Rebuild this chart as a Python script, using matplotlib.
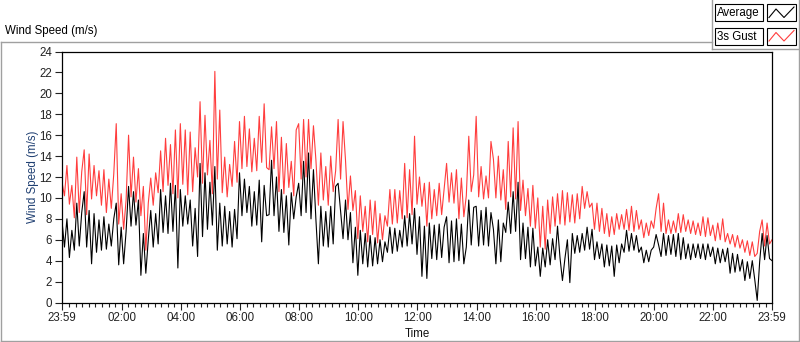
import numpy as np
import matplotlib
matplotlib.use("Agg")
import matplotlib.pyplot as plt
from matplotlib.lines import Line2D
from matplotlib.patches import Rectangle

plt.rcParams['font.family'] = ['Liberation Sans', 'DejaVu Sans']

# ---- data: one value every 5 minutes, 23:59 -> 23:59 ----
step_min = 5

gust = [
    11.5, 10.2, 13.1, 9.4, 11.2, 8.1, 13.9, 8.6, 12.5, 14.6, 8.4, 14.2,
    9.9, 13.1, 10.2, 12.6, 9.3, 12.7, 8.6, 11.8, 9.0, 12.3, 17.1, 7.5,
    10.4, 7.0, 9.8, 16.0, 10.1, 13.9, 9.6, 12.8, 8.3, 11.1, 5.0, 9.5,
    11.9, 9.3, 12.4, 10.5, 14.5, 10.6, 15.7, 11.2, 15.1, 10.4, 16.5, 10.0,
    17.1, 11.3, 16.5, 10.3, 16.3, 10.6, 14.8, 12.0, 19.2, 11.4, 17.9, 12.2,
    15.5, 10.4, 22.1, 11.8, 18.4, 10.5, 13.9, 10.1, 13.2, 11.1, 15.4, 11.5,
    17.3, 12.8, 17.8, 13.0, 16.6, 12.5, 15.7, 12.6, 17.8, 13.4, 19.0, 12.9,
    12.7, 16.8, 12.8, 17.3, 10.6, 15.8, 10.4, 15.2, 11.0, 13.5, 10.2, 16.5,
    17.1, 11.8, 17.5, 12.0, 17.5, 12.8, 16.9, 13.6, 9.3, 14.3, 9.8, 13.0,
    9.3, 14.0, 10.6, 12.6, 17.5, 11.8, 17.3, 13.6, 8.9, 12.1, 8.8, 10.7,
    6.1, 10.2, 6.8, 9.2, 5.8, 9.8, 6.5, 9.7, 5.7, 8.5, 6.0, 8.3,
    7.3, 10.8, 7.5, 10.8, 7.6, 10.7, 8.0, 13.3, 8.1, 12.7, 8.4, 15.9,
    9.4, 12.0, 9.2, 11.4, 7.3, 11.5, 8.0, 10.8, 8.3, 11.4, 8.4, 10.9,
    13.3, 9.6, 12.4, 9.5, 12.7, 8.0, 11.9, 8.2, 10.2, 15.9, 10.6, 12.2,
    17.8, 10.1, 13.0, 9.9, 12.1, 10.0, 15.4, 13.7, 10.0, 14.0, 9.8, 12.7,
    8.9, 15.4, 10.1, 16.7, 9.9, 17.3, 8.8, 11.7, 8.3, 10.9, 7.3, 11.2,
    7.1, 10.0, 5.3, 9.2, 5.1, 9.8, 6.6, 10.1, 7.3, 10.4, 7.5, 10.7,
    7.4, 10.5, 7.7, 10.3, 7.6, 10.4, 8.0, 11.1, 9.0, 10.6, 9.1, 9.5,
    7.0, 9.5, 6.8, 9.0, 6.6, 8.5, 6.3, 8.2, 6.5, 8.5, 7.0, 8.4,
    7.0, 8.9, 6.9, 9.2, 6.8, 8.8, 7.0, 7.9, 6.2, 7.6, 6.4, 7.8,
    7.1, 9.0, 10.4, 6.8, 9.5, 6.6, 7.9, 6.6, 7.8, 6.7, 8.5, 6.7,
    8.4, 6.8, 7.9, 6.6, 7.8, 6.5, 7.6, 6.4, 8.2, 6.3, 8.1, 6.4,
    7.4, 5.9, 7.6, 6.0, 8.0, 5.8, 6.6, 5.6, 6.5, 5.3, 6.4, 5.2,
    6.0, 4.8, 5.9, 4.5, 5.8, 4.4, 4.7, 6.8, 7.9, 5.4, 7.6, 5.6,
    6.0,
]

average = [
    7.8, 5.3, 8.0, 4.3, 6.9, 5.0, 9.5, 5.4, 8.6, 10.6, 5.3, 8.8,
    3.7, 8.5, 4.8, 7.9, 5.0, 8.2, 5.1, 7.5, 5.4, 8.0, 9.5, 3.6,
    7.2, 3.7, 6.8, 11.1, 7.3, 10.6, 7.4, 9.8, 2.6, 6.6, 2.8, 6.0,
    8.8, 5.3, 8.5, 5.6, 10.8, 6.7, 10.2, 6.6, 11.4, 6.8, 11.2, 3.3,
    10.8, 7.3, 10.2, 7.5, 9.8, 5.4, 9.0, 4.4, 13.3, 6.3, 12.4, 7.0,
    11.5, 7.4, 13.0, 5.0, 9.5, 5.4, 9.2, 5.6, 8.7, 5.3, 8.9, 6.1,
    12.4, 8.3, 11.8, 8.6, 11.1, 7.3, 10.6, 7.4, 11.7, 5.8, 11.2, 8.3,
    8.4, 13.6, 8.3, 12.0, 6.8, 10.8, 6.7, 10.2, 5.5, 10.5, 8.0, 10.1,
    11.4, 8.3, 13.5, 8.6, 14.3, 8.0, 12.7, 7.9, 3.7, 9.2, 5.4, 8.7,
    5.3, 9.2, 5.6, 11.1, 11.4, 8.8, 6.1, 9.8, 6.0, 8.6, 3.8, 7.2,
    2.6, 6.9, 3.7, 6.6, 3.4, 6.4, 3.5, 6.2, 3.7, 6.0, 3.9, 5.8,
    4.8, 7.2, 4.7, 7.1, 4.9, 6.9, 5.3, 8.3, 5.4, 8.5, 5.6, 9.0,
    4.6, 8.2, 2.5, 7.3, 2.3, 7.6, 4.2, 7.4, 4.1, 7.5, 4.3, 7.2,
    8.2, 3.8, 7.8, 3.9, 8.0, 4.0, 7.5, 3.7, 5.3, 9.8, 5.5, 9.1,
    9.2, 5.4, 8.8, 5.5, 9.1, 5.4, 8.6, 7.0, 3.7, 7.9, 3.9, 7.6,
    6.7, 9.6, 6.6, 10.6, 6.8, 11.5, 4.1, 7.6, 4.2, 7.2, 3.4, 7.1,
    3.5, 5.3, 2.5, 5.2, 3.4, 6.0, 3.6, 6.1, 4.1, 7.3, 4.3, 2.1,
    4.2, 6.0, 1.9, 6.6, 4.7, 6.4, 4.8, 6.6, 5.0, 7.2, 5.1, 7.0,
    4.1, 5.8, 4.2, 5.6, 3.4, 5.5, 3.5, 5.4, 2.5, 5.5, 3.8, 5.6,
    4.8, 6.9, 4.9, 6.6, 5.0, 6.4, 4.8, 5.3, 3.8, 5.0, 3.9, 5.0,
    5.3, 6.5, 5.5, 4.4, 6.6, 4.5, 6.4, 4.6, 6.5, 4.4, 6.6, 4.1,
    6.2, 4.2, 5.6, 4.1, 5.6, 4.3, 5.6, 4.2, 5.6, 4.1, 5.6, 4.4,
    5.3, 3.7, 5.2, 3.8, 5.1, 3.9, 5.2, 2.8, 4.7, 2.9, 4.6, 3.0,
    4.1, 2.1, 3.9, 2.3, 4.0, 2.2, 0.2, 3.9, 6.6, 4.1, 6.4, 4.2,
    4.0,
]

tick_minutes = [0, 121, 241, 361, 481, 601, 721, 841, 961, 1081, 1201, 1321, 1440]
tick_labels = ['23:59', '02:00', '04:00', '06:00', '08:00', '10:00', '12:00',
               '14:00', '16:00', '18:00', '20:00', '22:00', '23:59']
y_ticks = list(range(0, 25, 2))

t = np.arange(len(gust)) * step_min

W, H = 800, 342
fig = plt.figure(figsize=(W / 100, H / 100), dpi=100)
fig.patch.set_facecolor('white')

ax = fig.add_axes([62 / W, 1 - 302.5 / H, 710 / W, 251 / H])
ax.plot(t, gust, color='#ff3d3d', lw=0.8)
ax.plot(t, average, color='black', lw=0.8)

ax.set_xlim(0, 1440)
ax.set_ylim(0, 24)
ax.set_yticks(y_ticks)
ax.set_xticks(tick_minutes)
ax.set_xticklabels(tick_labels)
ax.set_xticks(np.arange(121 - 120, 1440, 120 / 9)[1:], minor=True)
ax.tick_params(axis='both', which='major', direction='out', length=5, width=0.8,
               labelsize=8.3, pad=2, colors='#222222')
ax.tick_params(axis='x', which='minor', direction='out', length=3, width=0.8, colors='#222222')
for s in ax.spines.values():
    s.set_linewidth(0.9)

ax.set_ylabel('Wind Speed (m/s)', fontsize=8.3, color='#1f3f72', labelpad=0)
ax.set_xlabel('Time', fontsize=8.3, color='#111111', labelpad=3)


def px_line(x0, y0, x1, y1, color='#a0a0a0', lw=1.0):
    fig.add_artist(Line2D([x0 / W, x1 / W], [1 - y0 / H, 1 - y1 / H],
                          transform=fig.transFigure, color=color, lw=lw))


# outer LabVIEW-style frame
px_line(0.5, 42, 712, 42)
px_line(712, 0, 712, 49)
px_line(712, 49, 798.5, 49)
px_line(798.5, 0, 798.5, 340.5)
px_line(0.5, 42, 0.5, 340.5)
px_line(0.5, 340.5, 798.5, 340.5)

fig.text(5 / W, 1 - 31 / H, 'Wind Speed (m/s)', fontsize=8.3, va='center', ha='left')

# legend boxes
legend_items = [('Average', 'black', 4.5), ('3s Gust', '#ff3d3d', 28)]
for name, col, top in legend_items:
    fig.add_artist(Rectangle((715 / W, 1 - (top + 16.5) / H), 48 / W, 16.5 / H,
                             transform=fig.transFigure, fill=False, ec='black', lw=0.8))
    fig.add_artist(Rectangle((767 / W, 1 - (top + 16.5) / H), 29 / W, 16.5 / H,
                             transform=fig.transFigure, fill=False, ec='black', lw=0.8))
    fig.text(717 / W, 1 - (top + 8.5) / H, name, fontsize=8.3, va='center', ha='left')
    gx = [769, 776, 784, 794]
    gy = [top + 13, top + 4.5, top + 13, top + 2.5]
    fig.add_artist(Line2D([x / W for x in gx], [1 - y / H for y in gy],
                          transform=fig.transFigure, color=col, lw=0.8))

fig.savefig('out.png', dpi=100, facecolor='white')
